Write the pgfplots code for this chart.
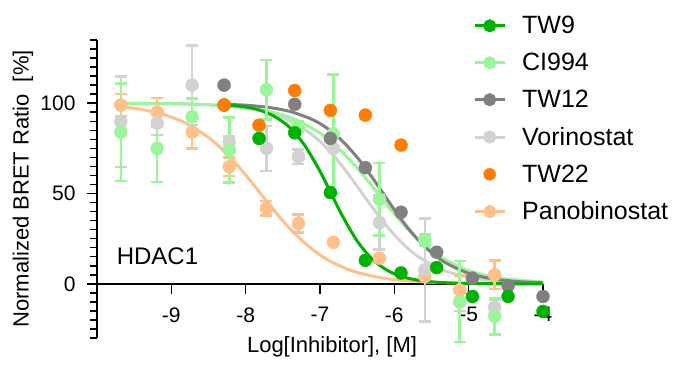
\documentclass[border=0pt]{standalone}
\usepackage{fontspec}
\setmainfont{Liberation Sans}
\usepackage{pgfplots}
\pgfplotsset{compat=1.18}
\definecolor{cTWnine}{RGB}{0,178,0}
\definecolor{cCI}{RGB}{155,245,155}
\definecolor{cTWtwelve}{RGB}{128,128,128}
\definecolor{cVor}{RGB}{210,210,210}
\definecolor{cTWtt}{RGB}{255,125,0}
\definecolor{cPano}{RGB}{255,192,138}
\pgfplotsset{
  lineleg/.style={legend image code/.code={\draw[##1, mark repeat=2, mark phase=2] plot coordinates {(0pt,0pt) (15pt,0pt) (30pt,0pt)};}},
  curve/.style={no markers, smooth, line width=3pt, color=#1},
  dots/.style={only marks, mark=*, mark size=6.5pt, mark options={fill=#1, draw=#1}, color=#1,
    error bars/y dir=both, error bars/y explicit,
    error bars/error bar style={line width=2.5pt, color=#1},
    error bars/error mark options={rotate=90, mark size=6pt, line width=2.5pt, color=#1}},
}
\begin{document}
\begin{tikzpicture}
\useasboundingbox (-97pt,-28pt) rectangle (591pt,338pt);
\begin{axis}[
  at={(0pt,0pt)}, anchor=south west,
  scale only axis, width=446pt, height=298pt,
  xmin=-10, xmax=-4, ymin=-30, ymax=135,
  axis x line*=middle, axis y line*=left,
  clip=false,
  xtick={-9,-8,-7,-6,-5,-4}, xticklabels={-9,-8,-7,-6,-5,-4},
  ytick={0,50,100}, yticklabels={0,50,100},
  minor ytick={-30,-25,...,135},
  tick align=outside,
  major tick length=10pt, minor tick length=7pt,
  every tick/.style={black, line width=1.5pt},
  axis line style={line width=1.8pt},
  ticklabel style={font=\fontsize{21}{24}\selectfont},
  xticklabel style={yshift=-10pt},
  yticklabel style={xshift=-8pt},
  xlabel={Log[Inhibitor], [M]},
  ylabel={Normalized BRET Ratio\ \ [\%]},
  label style={font=\fontsize{22}{26}\selectfont},
  xlabel style={at={(axis description cs:0.527,-0.03)}, anchor=center},
  ylabel style={at={(axis description cs:-0.166,0.5)}, anchor=center},
  legend style={draw=none, fill=none, font=\fontsize{25}{30}\selectfont,
    at={(axis description cs:0.8363,1.0935)}, anchor=north west,
    row sep=14pt, /tikz/every odd column/.append style={column sep=14pt}},
  legend cell align=left,
]
\addlegendimage{lineleg, line width=3pt, color=cTWnine, mark=*, mark size=5pt, mark options={fill=cTWnine}}
\addlegendentry{TW9}
\addlegendimage{lineleg, line width=3pt, color=cCI, mark=*, mark size=5pt, mark options={fill=cCI}}
\addlegendentry{CI994}
\addlegendimage{lineleg, line width=3pt, color=cTWtwelve, mark=*, mark size=5pt, mark options={fill=cTWtwelve}}
\addlegendentry{TW12}
\addlegendimage{lineleg, line width=3pt, color=cVor, mark=*, mark size=5pt, mark options={fill=cVor}}
\addlegendentry{Vorinostat}
\addlegendimage{lineleg, only marks, color=cTWtt, mark=*, mark size=6pt, mark options={fill=cTWtt}}
\addlegendentry{TW22}
\addlegendimage{lineleg, line width=3pt, color=cPano, mark=*, mark size=5pt, mark options={fill=cPano}}
\addlegendentry{Panobinostat}

% fitted curves
\addplot[curve=cPano, forget plot] coordinates {(-9.68,98.1)(-9.4,96.5)(-9.1,93.7)(-8.8,88.8)(-8.5,81.0)(-8.3,73.8)(-8.1,65.1)(-7.9,55.2)(-7.7,44.8)(-7.5,34.9)(-7.3,26.2)(-7.1,19.0)(-6.9,13.4)(-6.7,9.3)(-6.5,6.3)(-6.2,3.5)(-5.9,1.9)(-5.5,0.85)(-5.0,0.3)(-4.5,0.1)(-4.0,0.05)};
\addplot[curve=cVor, forget plot] coordinates {(-9.68,99.95)(-9.0,99.7)(-8.5,99.2)(-8.0,97.4)(-7.7,94.9)(-7.4,90.3)(-7.1,82.4)(-6.9,74.7)(-6.7,65.1)(-6.5,54.0)(-6.3,42.6)(-6.1,31.9)(-5.9,22.8)(-5.7,15.7)(-5.4,8.5)(-5.1,4.5)(-4.8,2.3)(-4.4,0.9)(-4.0,0.4)};
\addplot[curve=cCI, forget plot] coordinates {(-9.68,99.9)(-9.0,99.7)(-8.5,99.1)(-8.0,97.6)(-7.6,94.6)(-7.3,90.4)(-7.0,83.4)(-6.8,76.9)(-6.6,68.7)(-6.4,59.2)(-6.2,49.0)(-6.0,38.8)(-5.8,29.5)(-5.6,21.7)(-5.4,15.5)(-5.1,8.9)(-4.8,5.0)(-4.5,2.75)(-4.0,1.0)};
\addplot[curve=cTWtwelve, forget plot] coordinates {(-8.29,99.4)(-8.0,98.9)(-7.7,97.7)(-7.4,95.4)(-7.1,90.9)(-6.9,86.0)(-6.7,79.1)(-6.5,70.0)(-6.3,59.0)(-6.1,47.0)(-5.9,35.3)(-5.7,25.2)(-5.5,17.2)(-5.3,11.4)(-5.0,5.8)(-4.7,2.9)(-4.4,1.4)(-4.0,0.55)};
\addplot[curve=cTWnine, forget plot] coordinates {(-8.29,99.2)(-8.0,97.9)(-7.8,96.0)(-7.6,92.4)(-7.4,86.3)(-7.2,76.3)(-7.0,62.3)(-6.85,50)(-6.7,37.7)(-6.5,23.7)(-6.3,13.8)(-6.1,7.6)(-5.9,4.0)(-5.6,1.5)(-5.2,0.4)(-4.6,0.05)(-4.0,0)};

% data points
\addplot[forget plot, dots=cPano] table[x index=0, y index=1, y error index=2] {
-9.68 99 6
-9.19 95 8
-8.72 84 9
-8.22 64.8 5
-7.72 41.8 4
-7.29 33.5 5
-6.82 23 0
-6.20 14.2 0
-5.59 4 0
-5.12 -3.5 8
-4.65 5 8
};
\addplot[forget plot, dots=cVor] table[x index=0, y index=1, y error index=2] {
-9.68 89.7 25
-9.19 89 6.6
-8.72 110 22
-8.22 78.6 3
-7.72 75 12.5
-7.29 70.3 4
-6.82 75 0
-6.20 33.9 15
-5.59 7.7 28.5
-5.12 -10 5
-4.65 -13 4
};
\addplot[forget plot, dots=cCI] table[x index=0, y index=1, y error index=2] {
-9.68 84 27
-9.19 75 18.5
-8.72 92.5 10
-8.22 74 18
-7.72 107.5 16.5
-7.29 87 3
-6.82 83 33
-6.20 46.8 20
-5.59 24.3 3
-5.12 -9.8 22.5
-4.65 -18 10
};
\addplot[only marks, mark=*, mark size=6.5pt, color=cTWtwelve, forget plot] coordinates {(-8.29,110)(-7.34,99.4)(-6.86,80.5)(-6.39,64.3)(-5.91,39.6)(-5.43,17.5)(-4.95,3.1)(-4.47,-1.1)(-4.00,-7)};
\addplot[only marks, mark=*, mark size=6.5pt, color=cTWnine, forget plot] coordinates {(-8.29,99)(-7.82,80.5)(-7.34,83.6)(-6.86,50.5)(-6.39,13)(-5.91,6)(-5.43,9)(-4.95,-7)(-4.47,-7)(-4.00,-15.3)};
\addplot[only marks, mark=*, mark size=6.5pt, color=cTWtt, forget plot] coordinates {(-8.29,99)(-7.82,87.8)(-7.34,107)(-6.86,96)(-6.39,93.4)(-5.91,76.8)};

\node[font=\fontsize{24}{28}\selectfont] at (axis cs:-9.186,15.5) {HDAC1};
\end{axis}
\end{tikzpicture}
\end{document}
